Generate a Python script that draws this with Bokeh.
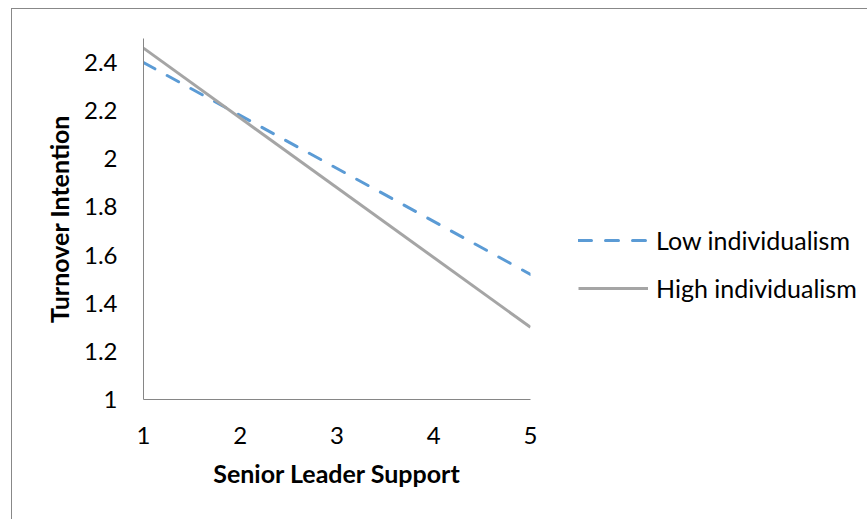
from bokeh.plotting import figure
from bokeh.models import Legend, LegendItem, FixedTicker, Range1d
from bokeh.embed import file_html
from bokeh.resources import INLINE

# Simple slopes of turnover intention across senior leader support
support = [1, 5]
low_individualism = [2.40, 1.52]
high_individualism = [2.46, 1.30]

x_ticks = [1, 2, 3, 4, 5]
y_ticks = [1, 1.2, 1.4, 1.6, 1.8, 2, 2.2, 2.4]
y_tick_labels = {1: "1", 1.2: "1.2", 1.4: "1.4", 1.6: "1.6", 1.8: "1.8", 2: "2", 2.2: "2.2", 2.4: "2.4"}

FONT = "Lato"
AXIS_GREY = "#868686"

p = figure(
    frame_width=387, frame_height=361,
    output_backend="svg", toolbar_location=None,
    x_range=Range1d(1, 5), y_range=Range1d(1, 2.5),
    min_border_left=131, min_border_right=337,
    min_border_top=29, min_border_bottom=120,
)
p.styles = {
    "margin-left": "11px", "margin-top": "8px",
    "border-left": "1px solid #888888", "border-top": "1px solid #888888",
}

p.outline_line_color = None
p.xgrid.visible = False
p.ygrid.visible = False

r_low = p.line(support, low_individualism, line_color="#5B9BD5", line_width=3,
               line_dash="13 14", line_cap="round")
r_high = p.line(support, high_individualism, line_color="#A5A5A5", line_width=3)

for ax in (p.xaxis, p.yaxis):
    ax.axis_line_color = AXIS_GREY
    ax.axis_line_width = 1
    ax.major_tick_line_color = None
    ax.minor_tick_line_color = None
    ax.major_label_text_font = FONT
    ax.major_label_text_font_size = "24px"
    ax.major_label_text_color = "#000000"
    ax.axis_label_text_font = FONT
    ax.axis_label_text_font_style = "bold"
    ax.axis_label_text_font_size = "25px"
    ax.axis_label_text_color = "#000000"

p.xaxis.ticker = FixedTicker(ticks=x_ticks)
p.yaxis.ticker = FixedTicker(ticks=y_ticks)
p.yaxis.major_label_overrides = y_tick_labels
p.xaxis.major_label_standoff = 21
p.yaxis.major_label_standoff = 20
p.xaxis.axis_label = "Senior Leader Support"
p.yaxis.axis_label = "Turnover Intention"
p.xaxis.axis_label_standoff = 11
p.yaxis.axis_label_standoff = 7

# legend sits in the right-hand panel, beside the plotting frame
legend = Legend(
    items=[
        LegendItem(label="Low individualism", renderers=[r_low]),
        LegendItem(label="High individualism", renderers=[r_high]),
    ],
    location=(48, 96),
    glyph_width=70, glyph_height=22, label_height=22,
    spacing=18, padding=0, margin=0, label_standoff=8,
    border_line_color=None, background_fill_alpha=0,
    label_text_font=FONT, label_text_font_size="25px", label_text_color="#000000",
)
p.add_layout(legend, "right")

open("out.html", "w").write(file_html(p, INLINE))
